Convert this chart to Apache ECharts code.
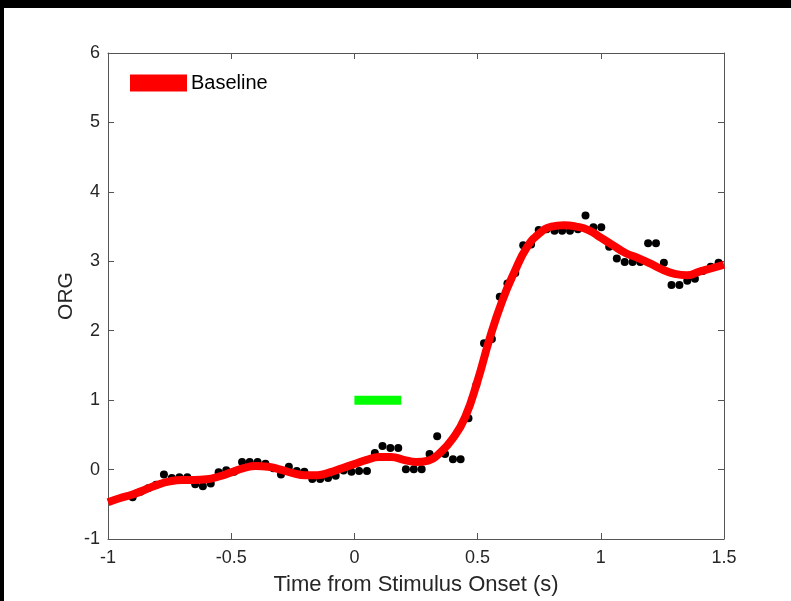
<!DOCTYPE html>
<html>
<head>
<meta charset="utf-8">
<script src="https://cdn.jsdelivr.net/npm/echarts@6/dist/echarts.min.js"></script>
<style>
  html, body { margin: 0; padding: 0; background: #fff; }
  #chart { width: 791px; height: 601px; }
</style>
</head>
<body>
<div id="chart"></div>
<script>
// measured samples (black dots)
const sampleTimes = [
  -0.900, -0.868, -0.837, -0.805, -0.773, -0.741, -0.710, -0.678, -0.646, -0.615,
  -0.583, -0.551, -0.520, -0.488, -0.456, -0.425, -0.393, -0.361, -0.329, -0.298,
  -0.266, -0.234, -0.203, -0.171, -0.139, -0.107, -0.076, -0.044, -0.012, 0.019,
  0.051, 0.083, 0.114, 0.146, 0.178, 0.209, 0.241, 0.273, 0.305, 0.336,
  0.368, 0.400, 0.431, 0.463, 0.495, 0.526, 0.558, 0.590, 0.621, 0.653,
  0.685, 0.717, 0.748, 0.780, 0.812, 0.843, 0.875, 0.907, 0.938, 0.970,
  1.002, 1.034, 1.065, 1.097, 1.129, 1.160, 1.192, 1.224, 1.256, 1.287,
  1.319, 1.351, 1.382, 1.414, 1.446, 1.478
]
const sampleValues = [
  -0.40, -0.32, -0.27, -0.22, -0.07, -0.12, -0.11, -0.11, -0.21, -0.24,
  -0.20, -0.04, -0.01, -0.03, 0.11, 0.11, 0.11, 0.085, 0.02, -0.07,
  0.04, -0.02, -0.03, -0.135, -0.135, -0.12, -0.09, -0.015, -0.03, -0.02,
  -0.02, 0.24, 0.34, 0.31, 0.31, 0.005, 0.005, 0.005, 0.225, 0.48,
  0.225, 0.15, 0.15, 0.74, 1.22, 1.82, 1.88, 2.49, 2.68, 2.83,
  3.23, 3.24, 3.45, 3.46, 3.44, 3.44, 3.44, 3.46, 3.66, 3.49,
  3.49, 3.21, 3.04, 2.99, 2.99, 2.99, 3.26, 3.26, 2.98, 2.66,
  2.66, 2.72, 2.75, 2.86, 2.92, 2.98
]

// fitted baseline curve (red)
const curveTimes = [
  -1.00, -0.95, -0.90, -0.85, -0.80, -0.75, -0.70, -0.65, -0.60, -0.55,
  -0.50, -0.45, -0.40, -0.35, -0.30, -0.25, -0.20, -0.15, -0.10, -0.05,
  0.00, 0.05, 0.10, 0.15, 0.20, 0.25, 0.30, 0.35, 0.40, 0.45,
  0.50, 0.55, 0.60, 0.65, 0.70, 0.75, 0.80, 0.85, 0.90, 0.95,
  1.00, 1.05, 1.10, 1.15, 1.20, 1.25, 1.30, 1.35, 1.40, 1.45, 1.50
]
const curveValues = [
  -0.47, -0.41, -0.36, -0.29, -0.22, -0.17, -0.15, -0.15, -0.14, -0.10,
  -0.04, 0.02, 0.05, 0.04, 0.00, -0.05, -0.08, -0.08, -0.04, 0.02,
  0.08, 0.14, 0.18, 0.18, 0.14, 0.11, 0.13, 0.25, 0.45, 0.76,
  1.28, 1.90, 2.43, 2.85, 3.20, 3.40, 3.50, 3.52, 3.50, 3.45,
  3.34, 3.23, 3.12, 3.05, 2.97, 2.88, 2.82, 2.80, 2.85, 2.90, 2.95
]

// stimulus marker (green bar)
const stimTimes = [0.0, 0.19]
const stimLevel = [1, 1]

const xTicks = { min: -1, max: 1.5, interval: 0.5 }
const yTicks = { min: -1, max: 6, interval: 1 }

const axisColor = '#555'
const textColor = '#262626'
const font = 'Liberation Sans, Arial, sans-serif'

const chart = echarts.init(document.getElementById('chart'), null, { renderer: 'canvas' })

const baseAxis = {
  type: 'value',
  splitLine: { show: false },
  axisLine: { show: true, onZero: false, lineStyle: { color: axisColor, width: 1 } },
  axisTick: { show: true, inside: true, length: 6, lineStyle: { color: axisColor } }
}

const option = {
  animation: false,
  backgroundColor: '#fff',
  grid: { left: 108, right: 67, top: 53, bottom: 62, containLabel: false },
  legend: {
    data: ['Baseline'],
    left: 125, top: 68,
    icon: 'rect',
    itemWidth: 57, itemHeight: 17, itemGap: 6,
    textStyle: { fontSize: 20, color: '#000', fontFamily: font, padding: [0, 0, 0, -1] }
  },
  xAxis: [
    Object.assign({}, baseAxis, xTicks, {
      position: 'bottom',
      name: 'Time from Stimulus Onset (s)',
      nameLocation: 'middle', nameGap: 35, nameMoveOverlap: false,
      nameTextStyle: { fontSize: 22, color: textColor, fontFamily: font },
      axisLabel: { fontSize: 18, color: textColor, margin: 10, fontFamily: font }
    }),
    Object.assign({}, baseAxis, xTicks, { position: 'top', axisLabel: { show: false } })
  ],
  yAxis: [
    Object.assign({}, baseAxis, yTicks, {
      position: 'left',
      name: 'ORG',
      nameLocation: 'middle', nameGap: 31, nameRotate: 90, nameMoveOverlap: false,
      nameTextStyle: { fontSize: 21, color: textColor, fontFamily: font },
      axisLabel: { fontSize: 18, color: textColor, margin: 8, fontFamily: font }
    }),
    Object.assign({}, baseAxis, yTicks, { position: 'right', axisLabel: { show: false } })
  ],
  graphic: [
    { type: 'rect', shape: { x: 0, y: 0, width: 791, height: 8 }, style: { fill: '#000' }, z: 100 },
    { type: 'rect', shape: { x: 0, y: 0, width: 4, height: 601 }, style: { fill: '#000' }, z: 100 }
  ],
  series: [
    {
      name: 'Samples',
      type: 'scatter',
      symbolSize: 8,
      itemStyle: { color: '#000', opacity: 1 },
      z: 2,
      data: sampleTimes.map((t, i) => [t, sampleValues[i]])
    },
    {
      name: 'Baseline',
      type: 'line',
      smooth: true,
      showSymbol: false,
      symbol: 'none',
      lineStyle: { color: '#ff0000', width: 8 },
      itemStyle: { color: '#ff0000' },
      z: 3,
      data: curveTimes.map((t, i) => [t, curveValues[i]])
    },
    {
      name: 'Stimulus',
      type: 'line',
      symbol: 'none',
      lineStyle: { color: '#00ff00', width: 9, cap: 'butt' },
      z: 3,
      data: stimTimes.map((t, i) => [t, stimLevel[i]])
    }
  ]
}

chart.setOption(option)
</script>
</body>
</html>
